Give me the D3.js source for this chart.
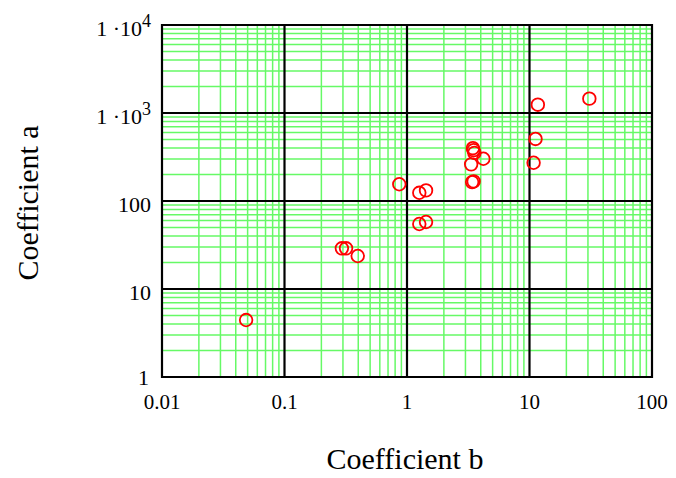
<!DOCTYPE html>
<html>
<head>
<meta charset="utf-8">
<script src="https://cdn.jsdelivr.net/npm/d3@7"></script>
<style>
  body { margin: 0; background: #fff; }
  text { font-family: "Liberation Serif", "Times New Roman", serif; fill: #000; }
</style>
</head>
<body>
<div id="chart"></div>
<script>
// data
var bValues = [0.0486, 0.294, 0.318, 0.396, 0.865, 1.26, 1.43, 1.26, 1.43,
  3.34, 3.45, 3.5, 3.55, 4.2, 3.4, 3.5, 10.8, 11.2, 11.7, 30.8];
var aValues = [4.44, 29, 29, 23.7, 155, 124, 132, 54.8, 57.7,
  261, 398, 378, 352, 302, 164, 167, 272, 507, 1243, 1455];
var xTickValues = [0.01, 0.1, 1, 10, 100];
var xTickLabels = ['0.01', '0.1', '1', '10', '100'];
var yTickValues = [1, 10, 100, 1000, 10000];
var yTickLabels = ['1', '10', '100', '1 ·10^3', '1 ·10^4'];

var width = 676, height = 478;
var margin = { left: 162, right: 24, top: 25, bottom: 101 };

var svg = d3.select('#chart').append('svg')
  .attr('width', width)
  .attr('height', height);

var x = d3.scaleLog().domain([0.01, 100]).range([margin.left, width - margin.right]);
var y = d3.scaleLog().domain([1, 10000]).range([height - margin.bottom, margin.top]);

//minor grid values
function minors(lo, hi) {
  var out = [];
  for (var d = lo; d < hi; d *= 10) {
    for (var k = 2; k <= 9; k++) out.push(d * k);
  }
  return out;
}

var grid = svg.append('g');

grid.selectAll('.vminor')
  .data(minors(0.01, 100))
  .enter().append('line')
  .attr('x1', d => x(d)).attr('x2', d => x(d))
  .attr('y1', y(1)).attr('y2', y(10000))
  .attr('stroke', '#66f966').attr('stroke-width', 1.5);

grid.selectAll('.hminor')
  .data(minors(1, 10000))
  .enter().append('line')
  .attr('y1', d => y(d)).attr('y2', d => y(d))
  .attr('x1', x(0.01)).attr('x2', x(100))
  .attr('stroke', '#66f966').attr('stroke-width', 1.5);

grid.selectAll('.vmajor')
  .data(xTickValues)
  .enter().append('line')
  .attr('x1', d => x(d)).attr('x2', d => x(d))
  .attr('y1', y(1) + 1).attr('y2', y(10000) - 1)
  .attr('stroke', '#000').attr('stroke-width', 2.2);

grid.selectAll('.hmajor')
  .data(yTickValues)
  .enter().append('line')
  .attr('y1', d => y(d)).attr('y2', d => y(d))
  .attr('x1', x(0.01) - 1).attr('x2', x(100) + 1)
  .attr('stroke', '#000').attr('stroke-width', 2.2);

//points
svg.append('g').selectAll('circle')
  .data(bValues.map((b, i) => ({ b: b, a: aValues[i] })))
  .enter().append('circle')
  .attr('cx', d => x(d.b))
  .attr('cy', d => y(d.a))
  .attr('r', 6.3)
  .attr('fill', 'none')
  .attr('stroke', '#f00')
  .attr('stroke-width', 1.8);

//x tick labels
svg.append('g').selectAll('text')
  .data(xTickValues)
  .enter().append('text')
  .attr('x', d => x(d))
  .attr('y', y(1) + 32)
  .attr('text-anchor', 'middle')
  .style('font-size', '21px')
  .text((d, i) => xTickLabels[i]);

//y tick labels, with superscript exponent where needed
var yl = svg.append('g').selectAll('text')
  .data(yTickValues)
  .enter().append('text')
  .attr('x', d => x(0.01) - (d === 1 ? 13 : 11))
  .attr('y', d => y(d) + (d === 1 ? 8 : 11))
  .attr('text-anchor', 'end')
  .style('font-size', '22px');

yl.each(function (d, i) {
  var parts = yTickLabels[i].split('^');
  var t = d3.select(this);
  t.append('tspan').text(parts[0]);
  if (parts[1]) {
    t.append('tspan')
      .attr('dy', -9)
      .style('font-size', '18px')
      .text(parts[1]);
  }
});

//axis titles
svg.append('text')
  .attr('x', 405)
  .attr('y', 469)
  .attr('text-anchor', 'middle')
  .style('font-size', '30px')
  .text('Coefficient b');

svg.append('text')
  .attr('transform', 'translate(38,' + 203 + ') rotate(-90)')
  .attr('text-anchor', 'middle')
  .style('font-size', '30px')
  .text('Coefficient a');
</script>
</body>
</html>
